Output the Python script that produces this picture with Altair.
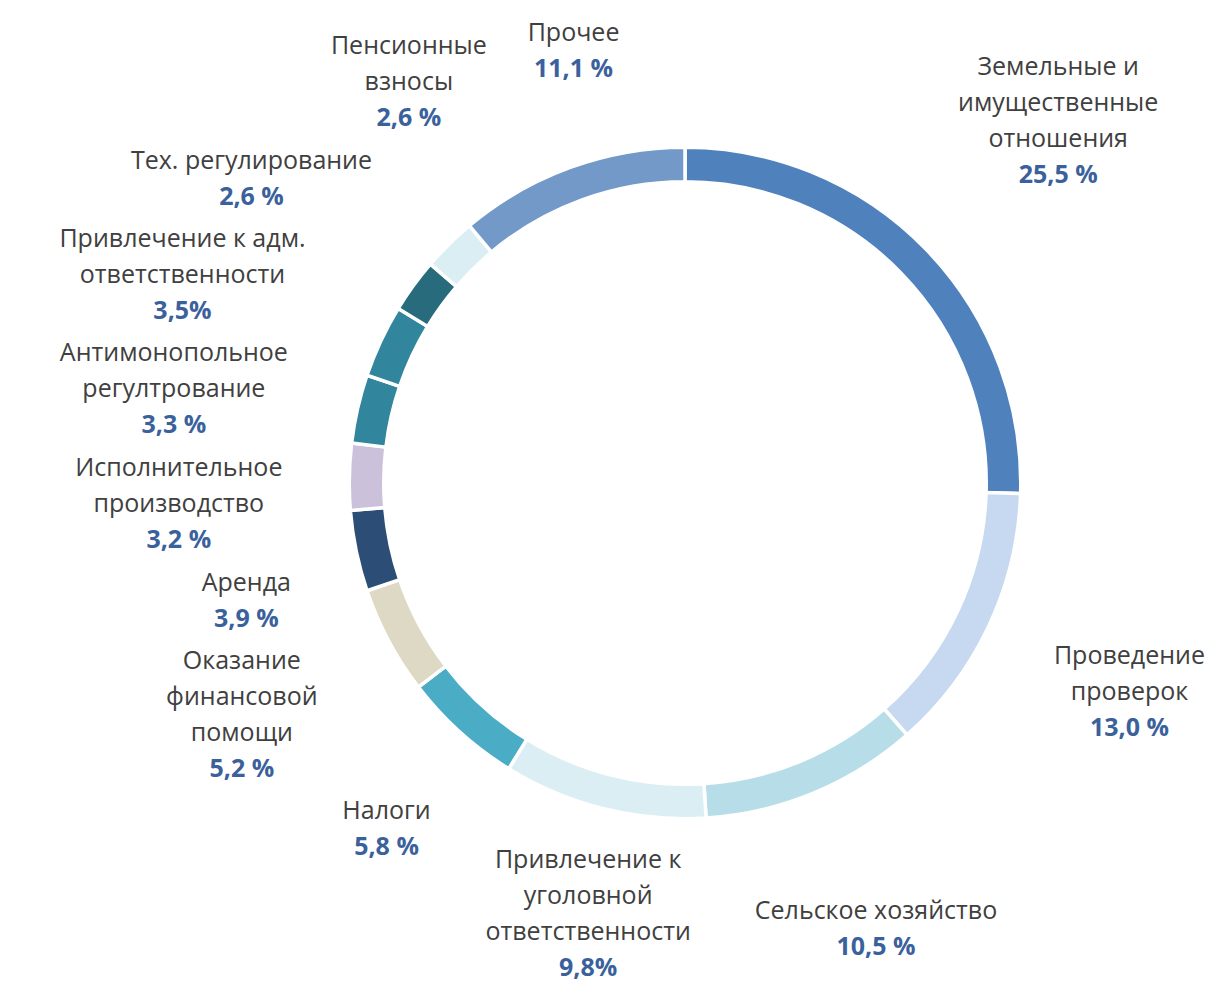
import math
import altair as alt
import pandas as pd

# ---- data ----
categories = [
    "Земельные и имущественные отношения", "Проведение проверок", "Сельское хозяйство",
    "Привлечение к уголовной ответственности", "Налоги", "Оказание финансовой помощи",
    "Аренда", "Исполнительное производство", "Антимонопольное регултрование",
    "Привлечение к адм. ответственности", "Тех. регулирование", "Пенсионные взносы", "Прочее",
]
values = [25.5, 13.0, 10.5, 9.8, 5.8, 5.2, 3.9, 3.2, 3.3, 3.5, 2.6, 2.6, 11.1]
pct_labels = ["25,5 %", "13,0 %", "10,5 %", "9,8%", "5,8 %", "5,2 %", "3,9 %",
              "3,2 %", "3,3 %", "3,5%", "2,6 %", "2,6 %", "11,1 %"]
name_labels = [
    "Земельные и\nимущественные\nотношения", "Проведение\nпроверок", "Сельское хозяйство",
    "Привлечение к\nуголовной\nответственности", "Налоги", "Оказание\nфинансовой\nпомощи",
    "Аренда", "Исполнительное\nпроизводство", "Антимонопольное\nрегултрование",
    "Привлечение к адм.\nответственности", "Тех. регулирование", "Пенсионные\nвзносы", "Прочее",
]
colors = ["#4F81BD", "#C6D9F1", "#B7DEE8", "#DBEEF4", "#4BACC6", "#DDD9C4", "#2C4D75",
          "#CCC1DA", "#31859C", "#31859C", "#276B7C", "#DBEEF4", "#7399C8"]

# ---- layout parameters ----
W, H = 1078, 950
R_OUT, R_IN = 334, 303
FS, LH = 25, 36
PAD = 65
GAP_X, GAP_Y = 40, 6
YMIN, YMAX = -472, 503
XMIN, XMAX = -672, 538

total = sum(values)
mids, cum = [], 0.0
for v in values:
    mids.append(2 * math.pi * (cum + v / 2) / total)
    cum += v

n = len(values)
half_w, half_h, nlines = [], [], []
for nm, pc in zip(name_labels, pct_labels):
    lines = nm.split("\n") + [pc]
    nlines.append(len(lines))
    half_w.append(max(len(s) for s in lines) * FS * 0.58 / 2 + 4)
    half_h.append(len(lines) * LH / 2)


def place(th, i):
    s, c = math.sin(th), math.cos(th)
    r = R_OUT + PAD + half_w[i] * abs(s) + half_h[i] * abs(c)
    if c < -1e-6:
        r = min(r, (YMAX - half_h[i]) / -c)
    elif c > 1e-6:
        r = min(r, (-YMIN - half_h[i]) / c)
    if s > 1e-6:
        r = min(r, (XMAX - half_w[i]) / s)
    elif s < -1e-6:
        r = min(r, (-XMIN - half_w[i]) / -s)
    return s * r, -c * r


th = mids[:]
step = 0.002
for _ in range(4000):
    pos = [place(th[i], i) for i in range(n)]
    moved = False
    for i in range(n):
        for k in (1, 2):
            j = (i + k) % n
            (xi, yi), (xj, yj) = pos[i], pos[j]
            if abs(xi - xj) < half_w[i] + half_w[j] + GAP_X and abs(yi - yj) < half_h[i] + half_h[j] + GAP_Y:
                th[i] -= step
                th[j] += step
                moved = True
    if not moved:
        break

# Vega draws a multi-line text with its first line at the anchor, so anchor the first line
name_t, name_r, pct_t, pct_r = [], [], [], []
for i in range(n):
    x, y = place(th[i], i)
    ny = y - nlines[i] * LH / 2 + LH / 2
    py = y + nlines[i] * LH / 2 - LH / 2
    name_t.append(math.atan2(x, -ny)); name_r.append(math.hypot(x, ny))
    pct_t.append(math.atan2(x, -py)); pct_r.append(math.hypot(x, py))

df = pd.DataFrame({
    "cat": categories, "value": values, "idx": list(range(n)),
    "name": name_labels, "pct": pct_labels,
    "nt": name_t, "nr": name_r, "pt": pct_t, "pr": pct_r,
})

base = alt.Chart(df)

ring = base.mark_arc(innerRadius=R_IN - 1.75, outerRadius=R_OUT + 1.75,
                     stroke="white", strokeWidth=3.5).encode(
    theta=alt.Theta("value:Q", stack=True),
    color=alt.Color("cat:N", scale=alt.Scale(domain=categories, range=colors), legend=None),
    order=alt.Order("idx:Q"),
)

names = base.mark_text(font="Open Sans", fontSize=FS, color="#404040", lineBreak="\n",
                       lineHeight=LH, align="center", baseline="middle").encode(
    theta=alt.Theta("nt:Q", scale=None, stack=False),
    radius=alt.Radius("nr:Q", scale=None),
    text="name:N",
)

pcts = base.mark_text(font="Open Sans", fontSize=FS, fontWeight="bold", color="#3A619B",
                      align="center", baseline="middle").encode(
    theta=alt.Theta("pt:Q", scale=None, stack=False),
    radius=alt.Radius("pr:Q", scale=None),
    text="pct:N",
)

chart = alt.layer(ring, names, pcts).resolve_scale(theta="independent", radius="independent").properties(
    width=W, height=H,
    autosize=alt.AutoSizeParams(type="none"),
    padding={"left": 138, "top": 0, "right": 0, "bottom": 30},
).configure_view(stroke=None)

chart.save("out.html", embed_options={"renderer": "svg", "actions": False})
